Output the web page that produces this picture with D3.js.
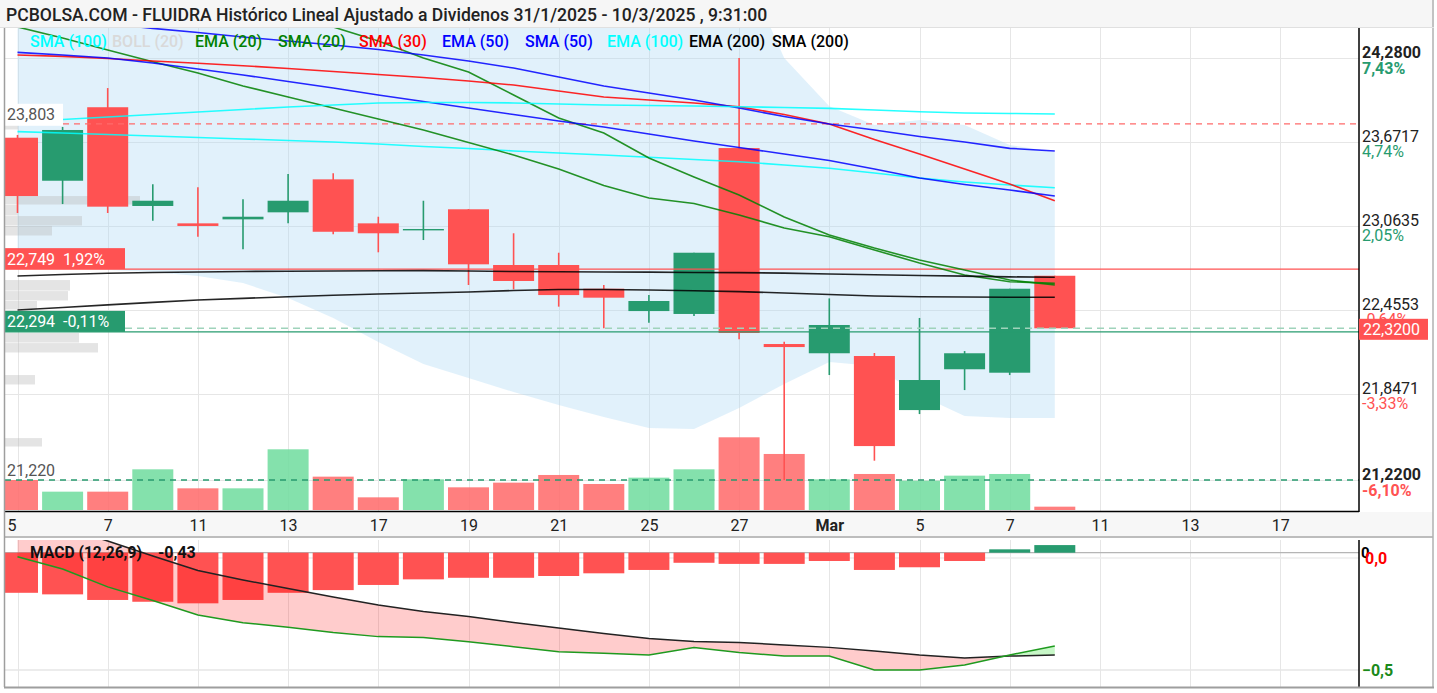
<!DOCTYPE html>
<html><head><meta charset="utf-8">
<script src="https://cdn.jsdelivr.net/npm/d3@7"></script>
<style>
html,body{margin:0;padding:0;background:#fff;}
svg{display:block;font-family:Roboto,"Noto Sans",sans-serif;}
</style></head><body>
<svg id="c" width="1437" height="693"></svg>
<script>
// ---------- DATA ----------
const dates = ["2025-02-05","2025-02-06","2025-02-07","2025-02-10","2025-02-11","2025-02-12","2025-02-13","2025-02-14",
"2025-02-17","2025-02-18","2025-02-19","2025-02-20","2025-02-21","2025-02-24","2025-02-25","2025-02-26","2025-02-27",
"2025-02-28","2025-03-03","2025-03-04","2025-03-05","2025-03-06","2025-03-07","2025-03-10",
"2025-03-11","2025-03-12","2025-03-13","2025-03-14","2025-03-17","2025-03-18"];
const openP  = [23.702,23.390,23.923,23.207,23.081,23.110,23.161,23.400,23.081,23.030,23.183,22.779,22.779,22.607,22.445,22.424,23.627,22.206,22.139,22.119,21.727,22.023,21.998,22.701];
const highP  = [23.722,23.780,24.062,23.364,23.342,23.255,23.439,23.444,23.129,23.245,23.185,23.009,22.868,22.634,22.561,22.868,24.280,22.223,22.537,22.141,22.395,22.155,22.607,22.701];
const lowP   = [23.156,23.221,23.156,23.100,22.984,22.893,23.081,23.002,22.871,22.960,22.634,22.603,22.477,22.320,22.360,22.409,22.240,21.220,21.981,21.360,21.698,21.872,21.981,22.320];
const closeP = [23.279,23.758,23.202,23.245,23.062,23.129,23.245,23.020,23.009,23.040,22.784,22.663,22.561,22.542,22.518,22.868,22.286,22.184,22.344,21.466,21.945,22.139,22.607,22.320];
const volume = [360,220,220,488,260,260,728,400,152,368,272,328,420,312,388,488,872,672,368,432,352,412,432,40];

const ema100 = [23.830,23.834,23.852,23.870,23.888,23.907,23.925,23.939,23.954,23.957,23.957,23.954,23.946,23.939,23.936,23.932,23.927,23.921,23.915,23.903,23.890,23.881,23.878,23.874];
const sma100 = [23.746,23.736,23.725,23.714,23.703,23.693,23.682,23.671,23.656,23.638,23.624,23.606,23.591,23.577,23.560,23.544,23.528,23.504,23.480,23.446,23.410,23.381,23.359,23.339];
const sma50  = [24.585,24.556,24.527,24.495,24.465,24.432,24.403,24.374,24.342,24.302,24.258,24.207,24.142,24.077,24.026,23.975,23.917,23.856,23.801,23.758,23.711,23.671,23.625,23.606];
const ema50  = [24.321,24.302,24.280,24.244,24.200,24.157,24.110,24.062,24.012,23.965,23.917,23.870,23.823,23.780,23.729,23.678,23.631,23.584,23.537,23.475,23.410,23.363,23.323,23.279];
const sma30  = [24.302,24.292,24.276,24.258,24.242,24.224,24.204,24.182,24.160,24.139,24.113,24.084,24.041,23.997,23.975,23.954,23.927,23.870,23.801,23.689,23.584,23.475,23.366,23.245];
const ema20  = [24.505,24.425,24.338,24.253,24.171,24.077,23.997,23.917,23.838,23.758,23.667,23.577,23.475,23.355,23.265,23.225,23.142,23.047,22.984,22.888,22.793,22.706,22.658,22.646];
const sma20  = [25.136,25.027,24.918,24.824,24.737,24.657,24.577,24.505,24.403,24.280,24.179,24.012,23.845,23.736,23.555,23.417,23.287,23.127,22.997,22.902,22.815,22.743,22.670,22.634];
const ema200 = [22.699,22.710,22.719,22.725,22.728,22.732,22.734,22.735,22.737,22.738,22.735,22.732,22.730,22.728,22.727,22.725,22.724,22.720,22.714,22.708,22.703,22.698,22.693,22.690];
const sma200 = [22.453,22.471,22.490,22.508,22.525,22.537,22.549,22.560,22.569,22.576,22.583,22.594,22.601,22.601,22.598,22.592,22.586,22.576,22.565,22.554,22.549,22.547,22.545,22.545];
const bollUpper = [25.30,25.30,25.30,25.28,25.25,25.22,25.20,25.18,25.15,25.12,25.10,25.08,25.06,25.05,25.03,25.02,25.01,24.28,23.93,23.794,23.83,23.794,23.649,23.598];
const bollLower = [22.757,22.757,22.743,22.728,22.699,22.648,22.540,22.395,22.221,22.061,21.960,21.858,21.764,21.677,21.597,21.590,21.742,21.916,22.076,22.047,21.836,21.684,21.669,21.669];

const macdLine   = [0.006,-0.049,-0.129,-0.190,-0.254,-0.289,-0.309,-0.333,-0.351,-0.355,-0.374,-0.396,-0.418,-0.425,-0.433,-0.400,-0.422,-0.438,-0.438,-0.500,-0.500,-0.478,-0.433,-0.393];
const macdSignal = [0.205,0.138,0.076,0.009,-0.056,-0.098,-0.136,-0.174,-0.210,-0.239,-0.261,-0.288,-0.313,-0.337,-0.359,-0.373,-0.377,-0.388,-0.399,-0.415,-0.433,-0.446,-0.438,-0.433];
const macdHist   = [-0.179,-0.186,-0.211,-0.219,-0.226,-0.211,-0.179,-0.167,-0.144,-0.119,-0.112,-0.112,-0.104,-0.092,-0.077,-0.045,-0.050,-0.050,-0.037,-0.077,-0.065,-0.037,0.015,0.034];

const vpLow  = [23.758,23.214,23.134,23.062,22.989,22.590,22.518,22.453,22.213,22.141,21.909,21.459];
const vpHigh = [23.816,23.279,23.214,23.134,23.062,22.670,22.590,22.518,22.286,22.213,21.981,21.524];
const vpVol  = [130,1350,130,770,470,650,630,320,740,930,300,370];

const priceTicks = [24.28,23.6717,23.0635,22.4553,21.8471,21.22];
const priceTickPct = ["7,43%","4,74%","2,05%","-0,64%","-3,33%","-6,10%"];
const dateTicks = ["2025-02-05","2025-02-07","2025-02-11","2025-02-13","2025-02-17","2025-02-19","2025-02-21","2025-02-25",
"2025-02-27","2025-03-03","2025-03-05","2025-03-07","2025-03-11","2025-03-13","2025-03-17"];
const dateTickLabels = ["5","7","11","13","17","19","21","25","27","Mar","5","7","11","13","17"];
const macdTicks = [0,-0.5];

const levelValues = [23.803,22.749,22.294,21.22];
const levelLabels = ["23,803","22,749  1,92%","22,294  -0,11%","21,220"];
const lastPrice = 22.32;
const lastPriceLabel = "22,3200";

const legendNames = ["SMA (100)","BOLL (20)","EMA (20)","SMA (20)","SMA (30)","EMA (50)","SMA (50)","EMA (100)","EMA (200)","SMA (200)"];
const titleText = "PCBOLSA.COM - FLUIDRA Histórico Lineal Ajustado a Dividenos 31/1/2025 - 10/3/2025 , 9:31:00";
const macdTitle = "MACD (12,26,9)";
const macdValueText = "-0,43";

// ---------- STYLE / LAYOUT ----------
const legendColors = ["#00ffff","#d9d9d9","#008000","#008000","#ff0000","#0000ff","#0000ff","#00ffff","#000000","#000000"];
const legendX = [30,112,195,278,359,442,525,607,689,772];
const UP = "#279b6f", DOWN = "#ff5252";
const L = 5, R = 1359, T = 28, B = 512;
const MT = 538, MB = 687;

const svg = d3.select("#c");
const loc = d3.formatLocale({decimal:",", thousands:".", grouping:[3], currency:["","€"]});
const f4 = loc.format(".4f");

const x = d3.scalePoint().domain(dates).range([17.5, 17.5 + 45.1*(dates.length-1)]);
const step = x.step();
const bw = 41;
const y = d3.scaleLinear().domain([21.22, 24.28]).range([480, 58]);
const yV = d3.scaleLinear().domain([0, 872]).range([510, 437.3]);
const xVP = d3.scaleLinear().domain([0, 1350]).range([0, 135]);
const yH = d3.scaleLinear().domain([0, -0.5]).range([552.7, 664.7]);
const yM = d3.scaleLinear().domain([0, -0.5]).range([558, 670]);
const td = dates.slice(0, openP.length);

// backgrounds
svg.append("rect").attr("x",0).attr("y",0).attr("width",1437).attr("height",693).attr("fill","#fff");
svg.append("rect").attr("x",0).attr("y",0).attr("width",1434).attr("height",T).attr("fill","#f6f6f6");
svg.append("rect").attr("x",L).attr("y",B).attr("width",1433-L).attr("height",MT-B).attr("fill","#f7f7f7");

const defs = svg.append("defs");
defs.append("clipPath").attr("id","cm").append("rect").attr("x",L).attr("y",T).attr("width",R-L).attr("height",B-T);
defs.append("clipPath").attr("id","cd").append("rect").attr("x",L).attr("y",MT+2).attr("width",R-L).attr("height",MB-MT-2);

const gm = svg.append("g").attr("clip-path","url(#cm)");
// grid
gm.selectAll(".hg").data(priceTicks).join("line").attr("x1",L).attr("x2",R)
  .attr("y1",d=>Math.round(y(d))+0.5).attr("y2",d=>Math.round(y(d))+0.5).attr("stroke","#e6e6e6");
gm.selectAll(".vg").data(dateTicks).join("line").attr("y1",T).attr("y2",B)
  .attr("x1",d=>Math.round(x(d))+0.5).attr("x2",d=>Math.round(x(d))+0.5).attr("stroke","#e6e6e6");

// bollinger fill
gm.append("path").datum(td).attr("fill","rgba(173,216,245,0.36)")
  .attr("d", d3.area().x(d=>x(d)).y0((d,i)=>y(bollLower[i])).y1((d,i)=>y(bollUpper[i]))(td));

// volume profile
gm.selectAll(".vp").data(vpVol).join("rect").attr("x",L)
  .attr("y",(d,i)=>y(vpHigh[i])).attr("height",(d,i)=>y(vpLow[i])-y(vpHigh[i])-0.5)
  .attr("width",d=>xVP(d)).attr("fill","rgba(185,185,185,0.38)");

// volume bars
gm.selectAll(".vol").data(volume).join("rect")
  .attr("x",(d,i)=>x(td[i])-bw/2).attr("width",bw)
  .attr("y",d=>yV(d)).attr("height",d=>510-yV(d))
  .attr("fill",(d,i)=>closeP[i]>=openP[i]?"rgba(110,220,157,0.85)":"rgba(255,105,105,0.85)");

// candles
const cg = gm.selectAll(".cd").data(td).join("g");
cg.append("line").attr("x1",(d)=>x(d)).attr("x2",d=>x(d))
  .attr("y1",(d,i)=>y(highP[i])).attr("y2",(d,i)=>y(lowP[i]))
  .attr("stroke",(d,i)=>closeP[i]>=openP[i]?UP:DOWN).attr("stroke-width",1.6);
cg.append("rect").attr("x",d=>x(d)-bw/2).attr("width",bw)
  .attr("y",(d,i)=>y(Math.max(openP[i],closeP[i])))
  .attr("height",(d,i)=>Math.max(1.2, Math.abs(y(openP[i])-y(closeP[i]))))
  .attr("fill",(d,i)=>closeP[i]>=openP[i]?UP:DOWN);

// level lines
gm.append("line").attr("x1",63).attr("x2",R).attr("y1",y(levelValues[0])).attr("y2",y(levelValues[0]))
  .attr("stroke","#ff6b6b").attr("stroke-width",1.3).attr("stroke-dasharray","6,5");
gm.append("line").attr("x1",L).attr("x2",R).attr("y1",y(levelValues[1])).attr("y2",y(levelValues[1]))
  .attr("stroke","#ff5252").attr("stroke-width",1.3);
gm.append("line").attr("x1",125).attr("x2",R).attr("y1",y(lastPrice)).attr("y2",y(lastPrice))
  .attr("stroke","#9fd3bb").attr("stroke-width",1.5).attr("stroke-dasharray","7,5");
gm.append("line").attr("x1",L).attr("x2",R).attr("y1",y(levelValues[2])).attr("y2",y(levelValues[2]))
  .attr("stroke",UP).attr("stroke-width",1.3);
gm.append("line").attr("x1",L).attr("x2",R).attr("y1",y(levelValues[3])).attr("y2",y(levelValues[3]))
  .attr("stroke",UP).attr("stroke-width",1.3).attr("stroke-dasharray","6,5");

// moving averages
const maSeries = [[sma100,legendColors[0]],[ema20,legendColors[2]],[sma20,legendColors[3]],[sma30,legendColors[4]],
  [ema50,legendColors[5]],[sma50,legendColors[6]],[ema100,legendColors[7]],[ema200,legendColors[8]],[sma200,legendColors[9]]];
const line = d3.line().x((d,i)=>x(td[i])).y(d=>y(d));
maSeries.forEach(([arr,col])=>{
  gm.append("path").attr("d",line(arr)).attr("fill","none").attr("stroke",col).attr("stroke-width",1.6).attr("opacity",0.85);
});

// left level labels
svg.append("rect").attr("x",L).attr("y",y(levelValues[0])-20).attr("width",58).attr("height",22).attr("fill","#fff");
svg.append("text").attr("x",7).attr("y",y(levelValues[0])-4).attr("font-size",16).attr("fill","#555").text(levelLabels[0]);
svg.append("rect").attr("x",L).attr("y",y(levelValues[1])-21).attr("width",120).attr("height",21).attr("fill","#ff5252");
svg.append("text").attr("x",7).attr("y",y(levelValues[1])-4.5).attr("font-size",16).attr("fill","#fff").attr("xml:space","preserve").text(levelLabels[1]);
svg.append("rect").attr("x",L).attr("y",y(levelValues[2])-21).attr("width",120).attr("height",21).attr("fill",UP);
svg.append("text").attr("x",7).attr("y",y(levelValues[2])-4.5).attr("font-size",16).attr("fill","#fff").attr("xml:space","preserve").text(levelLabels[2]);
svg.append("text").attr("x",7).attr("y",y(levelValues[3])-4).attr("font-size",16).attr("fill","#555").text(levelLabels[3]);

// legend
legendNames.forEach((n,i)=>{
  svg.append("text").attr("x",legendX[i]).attr("y",47).attr("font-size",16).attr("font-weight",500)
    .attr("fill",legendColors[i]).text(n);
});

// title
const tt = svg.append("text").attr("x",6).attr("y",21).attr("font-size",16).attr("font-weight",500).attr("fill","#222").text(titleText);
const tw = tt.node().getComputedTextLength();
tt.attr("font-size", 16*762/tw);

// axes lines
svg.append("line").attr("x1",L).attr("x2",R).attr("y1",511.5).attr("y2",511.5).attr("stroke","#000").attr("stroke-width",1.5);
svg.append("line").attr("x1",R).attr("x2",R).attr("y1",T).attr("y2",B).attr("stroke","#000").attr("stroke-width",1.5);

// right y axis
const ya = svg.append("g").attr("transform",`translate(${R},0)`)
  .call(d3.axisRight(y).tickValues(priceTicks).tickSize(0).tickPadding(3).tickFormat(f4));
ya.select(".domain").remove();
ya.selectAll("text").attr("dy","0").attr("font-size",16).attr("fill","#222").attr("font-family","Roboto")
  .attr("font-weight",(d,i)=>(i===0||i===priceTicks.length-1)?700:400)
  .attr("transform","translate(0,-0.5)");
ya.selectAll(".tick").append("text").attr("x",3).attr("y",15).attr("font-size",16).attr("font-family","Roboto")
  .attr("fill",(d,i)=>priceTickPct[i].startsWith("-")?"#ff5252":UP)
  .attr("font-weight",(d,i)=>(i===0||i===priceTicks.length-1)?700:400)
  .text((d,i)=>priceTickPct[i]);

// last price box
svg.append("rect").attr("x",R).attr("y",y(lastPrice)-9.5).attr("width",69).attr("height",21).attr("fill","#ff5252");
svg.append("text").attr("x",R+4).attr("y",y(lastPrice)+7).attr("font-size",16).attr("fill","#fff").text(lastPriceLabel);

// x axis
const xa = svg.append("g").attr("transform",`translate(0,${B})`)
  .call(d3.axisBottom(x).tickValues(dateTicks).tickSize(0).tickPadding(7.5).tickFormat((d,i)=>dateTickLabels[i]));
xa.select(".domain").remove();
xa.selectAll("text").attr("font-size",16).attr("fill","#222").attr("font-family","Roboto")
  .attr("font-weight",(d,i)=>dateTickLabels[i]==="Mar"?700:400);
xa.selectAll("text").filter((d,i)=>i===0).attr("text-anchor","start").attr("x",L+2-x(dateTicks[0]));

// ---------- MACD panel ----------
svg.append("line").attr("x1",L).attr("x2",1433).attr("y1",537).attr("y2",537).attr("stroke","#bdbdbd").attr("stroke-width",2);
const gd = svg.append("g").attr("clip-path","url(#cd)");
gd.selectAll(".vg").data(dateTicks).join("line").attr("y1",MT).attr("y2",MB)
  .attr("x1",d=>Math.round(x(d))+0.5).attr("x2",d=>Math.round(x(d))+0.5).attr("stroke","#e6e6e6");
gd.append("line").attr("x1",L).attr("x2",R).attr("y1",yM(-0.5)).attr("y2",yM(-0.5)).attr("stroke","#e6e6e6").attr("stroke-width",1.5);
gd.append("line").attr("x1",L).attr("x2",R).attr("y1",yM(0)).attr("y2",yM(0)).attr("stroke","#ececec").attr("stroke-width",1.5);
gd.append("line").attr("x1",L).attr("x2",R).attr("y1",yH(0)).attr("y2",yH(0)).attr("stroke","#b5b5b5").attr("stroke-width",1.2);

gd.selectAll(".hb").data(macdHist).join("rect")
  .attr("x",(d,i)=>x(td[i])-bw/2).attr("width",bw)
  .attr("y",d=>Math.min(yH(d),yH(0))).attr("height",d=>Math.abs(yH(d)-yH(0)))
  .attr("fill",d=>d>=0?UP:"#ff5252");

// fill between macd and signal with crossings
const n = macdLine.length, pts = [];
for (let i=0;i<n;i++){
  pts.push({t:i, m:macdLine[i], s:macdSignal[i]});
  if (i<n-1){
    const d0 = macdLine[i]-macdSignal[i], d1 = macdLine[i+1]-macdSignal[i+1];
    if (d0*d1<0){ const f=d0/(d0-d1);
      pts.push({t:i+f, m:macdLine[i]+f*(macdLine[i+1]-macdLine[i]), s:macdSignal[i]+f*(macdSignal[i+1]-macdSignal[i])}); }
  }
}
const xt = t => x(td[0]) + t*step;
gd.append("path").attr("fill","rgba(255,0,0,0.2)")
  .attr("d", d3.area().x(p=>xt(p.t)).y0(p=>yM(p.s)).y1(p=>yM(Math.min(p.m,p.s)))(pts));
gd.append("path").attr("fill","rgba(0,220,0,0.22)")
  .attr("d", d3.area().x(p=>xt(p.t)).y0(p=>yM(p.s)).y1(p=>yM(Math.max(p.m,p.s)))(pts));
const ml = d3.line().x((d,i)=>x(td[i])).y(d=>yM(d));
gd.append("path").attr("d",ml(macdSignal)).attr("fill","none").attr("stroke","#222").attr("stroke-width",1.5);
gd.append("path").attr("d",ml(macdLine)).attr("fill","none").attr("stroke","#1f9a1f").attr("stroke-width",1.5);

const mt1 = svg.append("text").attr("x",30).attr("y",558).attr("font-size",16).attr("font-weight",700).attr("fill","#111").text(macdTitle);
mt1.attr("font-size", 16*112/mt1.node().getComputedTextLength());
svg.append("text").attr("x",158).attr("y",558).attr("font-size",16).attr("font-weight",700).attr("fill","#111").text(macdValueText);

svg.append("line").attr("x1",R).attr("x2",R).attr("y1",MT+2).attr("y2",MB).attr("stroke","#000").attr("stroke-width",1.5);
svg.append("text").attr("x",R+2).attr("y",yH(0)+5).attr("font-size",15).attr("font-weight",700).attr("fill","#000").text("0");
const ma = svg.append("g").attr("transform",`translate(${R},0)`)
  .call(d3.axisRight(yM).tickValues(macdTicks).tickSize(0).tickPadding(6).tickFormat(loc.format(".1f")));
ma.select(".domain").remove();
ma.selectAll("text").attr("font-size",16).attr("font-weight",700).attr("font-family","Roboto")
  .attr("fill",d=>d===0?"#ff0000":"#1a8a1a");
ma.selectAll("text").filter(d=>d!==0).attr("x",3);

// frame
svg.append("line").attr("x1",L-0.5).attr("x2",L-0.5).attr("y1",T).attr("y2",MB).attr("stroke","#9e9e9e").attr("stroke-width",1.5);
svg.append("line").attr("x1",1433).attr("x2",1433).attr("y1",0).attr("y2",MB).attr("stroke","#b0b0b0").attr("stroke-width",1.5);
svg.append("line").attr("x1",L-1).attr("x2",1434).attr("y1",MB+0.5).attr("y2",MB+0.5).attr("stroke","#9e9e9e").attr("stroke-width",2);
svg.append("line").attr("x1",0).attr("x2",1434).attr("y1",T-0.5).attr("y2",T-0.5).attr("stroke","#e0e0e0").attr("stroke-width",1);
</script>
</body></html>
